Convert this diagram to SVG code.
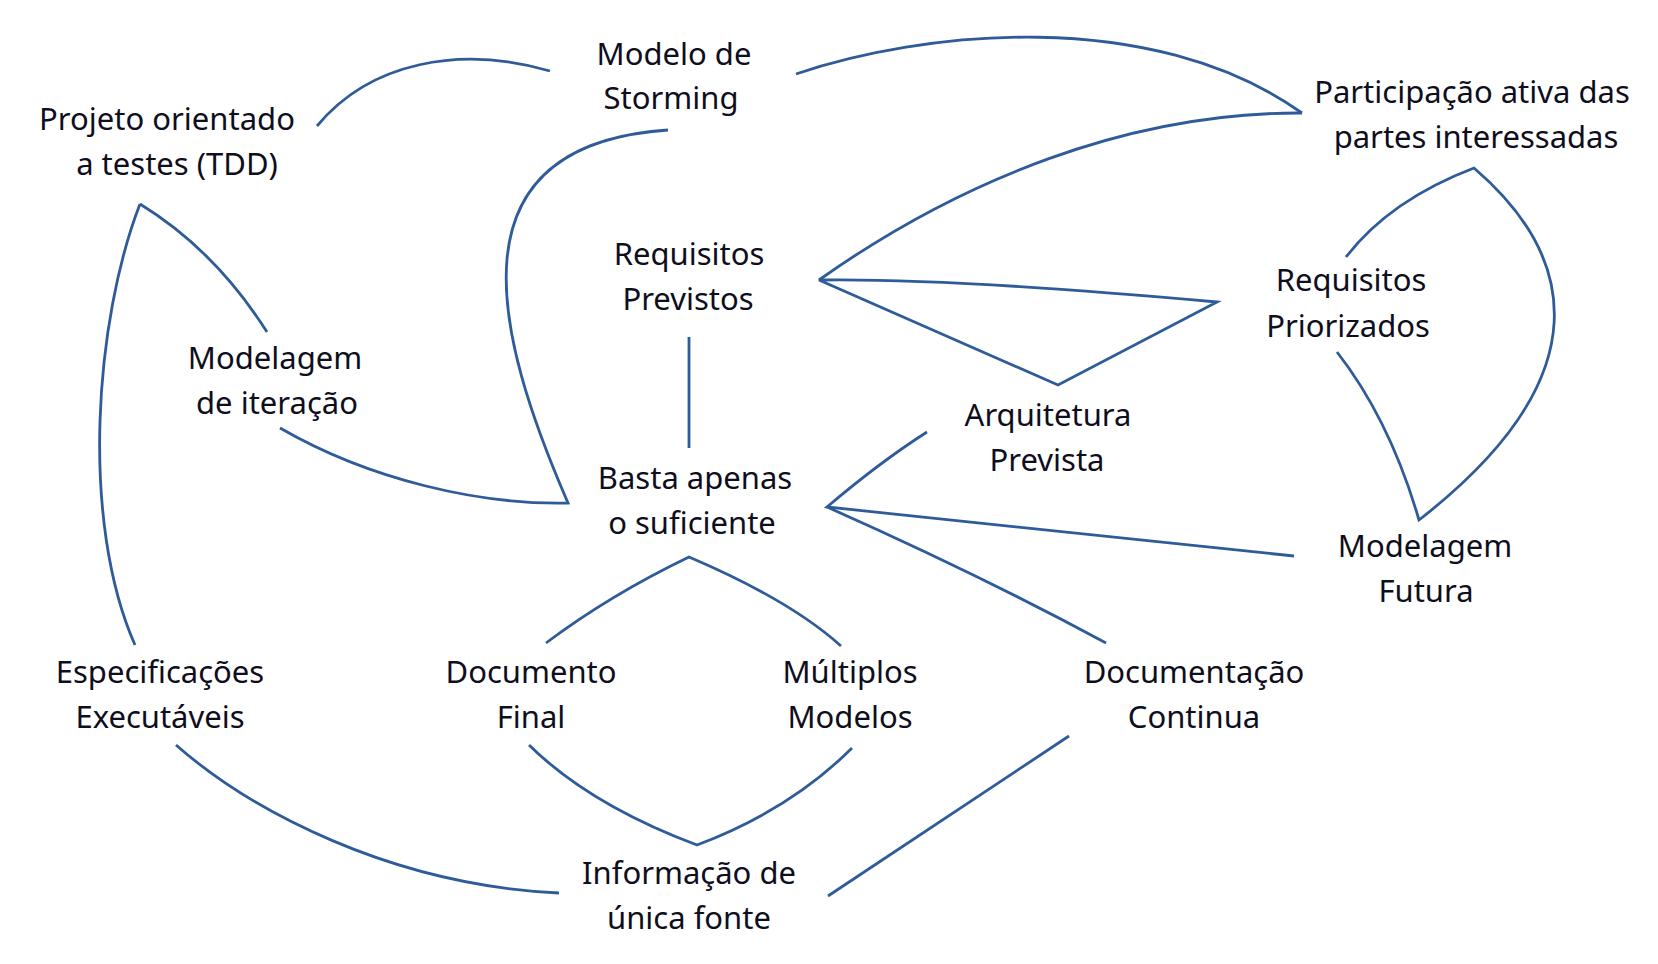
<svg xmlns="http://www.w3.org/2000/svg" width="1658" height="964" viewBox="0 0 1658 964">
<style>
  .lbl { font-family: "Noto Sans", "Open Sans", "Liberation Sans", sans-serif; font-size: 31px; fill: #0e0e1c; text-anchor: middle; }
  .c { fill: none; stroke: #2F5B99; stroke-width: 2.8; stroke-linejoin: miter; stroke-linecap: butt; }
</style>
<rect width="1658" height="964" fill="#ffffff"/>
<g id="connectors">
  <path class="c" d="M317,126 C370,62 460,45 550,71"/>
  <path class="c" d="M796,74 C920,32 1150,5 1302,113"/>
  <path class="c" d="M1302,113 C1130,112 960,180 819,280"/>
  <path class="c" d="M819,280 Q950,278 1217,302 L1058,385 Z"/>
  <path class="c" d="M1346,257 Q1390,200 1474,168 C1575,255 1605,375 1419,520 Q1390,420 1337,352"/>
  <path class="c" d="M689,337 L689,448"/>
  <path class="c" d="M668,130 C445,145 495,335 568,503 C480,505 370,480 280,428"/>
  <path class="c" d="M140,204 Q215,250 267,332"/>
  <path class="c" d="M140,204 C95,320 80,520 135,645"/>
  <path class="c" d="M176,745 C250,810 390,885 559,893"/>
  <path class="c" d="M927,432 Q880,462 827,507 L1294,556"/>
  <path class="c" d="M827,507 Q980,575 1106,643"/>
  <path class="c" d="M546,643 Q610,595 689,557 Q790,600 841,646"/>
  <path class="c" d="M529,745 Q590,805 697,845 Q790,810 852,748"/>
  <path class="c" d="M1069,736 L828,896"/>
</g>
<g id="n-modelo-storming"><text class="lbl" x="674" y="65">Modelo de</text><text class="lbl" x="671" y="109">Storming</text></g>
<g id="n-projeto-tdd"><text class="lbl" x="167" y="130">Projeto orientado</text><text class="lbl" x="177" y="175">a testes (TDD)</text></g>
<g id="n-participacao"><text class="lbl" x="1472" y="103">Participação ativa das</text><text class="lbl" x="1476" y="148">partes interessadas</text></g>
<g id="n-requisitos-previstos"><text class="lbl" x="689" y="265">Requisitos</text><text class="lbl" x="688" y="310">Previstos</text></g>
<g id="n-requisitos-priorizados"><text class="lbl" x="1351" y="291">Requisitos</text><text class="lbl" x="1348" y="337">Priorizados</text></g>
<g id="n-modelagem-iteracao"><text class="lbl" x="275" y="369">Modelagem</text><text class="lbl" x="277" y="414">de iteração</text></g>
<g id="n-arquitetura"><text class="lbl" x="1048" y="426">Arquitetura</text><text class="lbl" x="1047" y="471">Prevista</text></g>
<g id="n-basta"><text class="lbl" x="695" y="489">Basta apenas</text><text class="lbl" x="692" y="534">o suficiente</text></g>
<g id="n-modelagem-futura"><text class="lbl" x="1425" y="557">Modelagem</text><text class="lbl" x="1426" y="602">Futura</text></g>
<g id="n-especificacoes"><text class="lbl" x="160" y="683">Especificações</text><text class="lbl" x="160" y="728">Executáveis</text></g>
<g id="n-documento-final"><text class="lbl" x="531" y="683">Documento</text><text class="lbl" x="531" y="728">Final</text></g>
<g id="n-multiplos"><text class="lbl" x="850" y="683">Múltiplos</text><text class="lbl" x="850" y="728">Modelos</text></g>
<g id="n-documentacao"><text class="lbl" x="1194" y="683">Documentação</text><text class="lbl" x="1194" y="728">Continua</text></g>
<g id="n-informacao"><text class="lbl" x="689" y="884">Informação de</text><text class="lbl" x="689" y="929">única fonte</text></g>
</svg>
